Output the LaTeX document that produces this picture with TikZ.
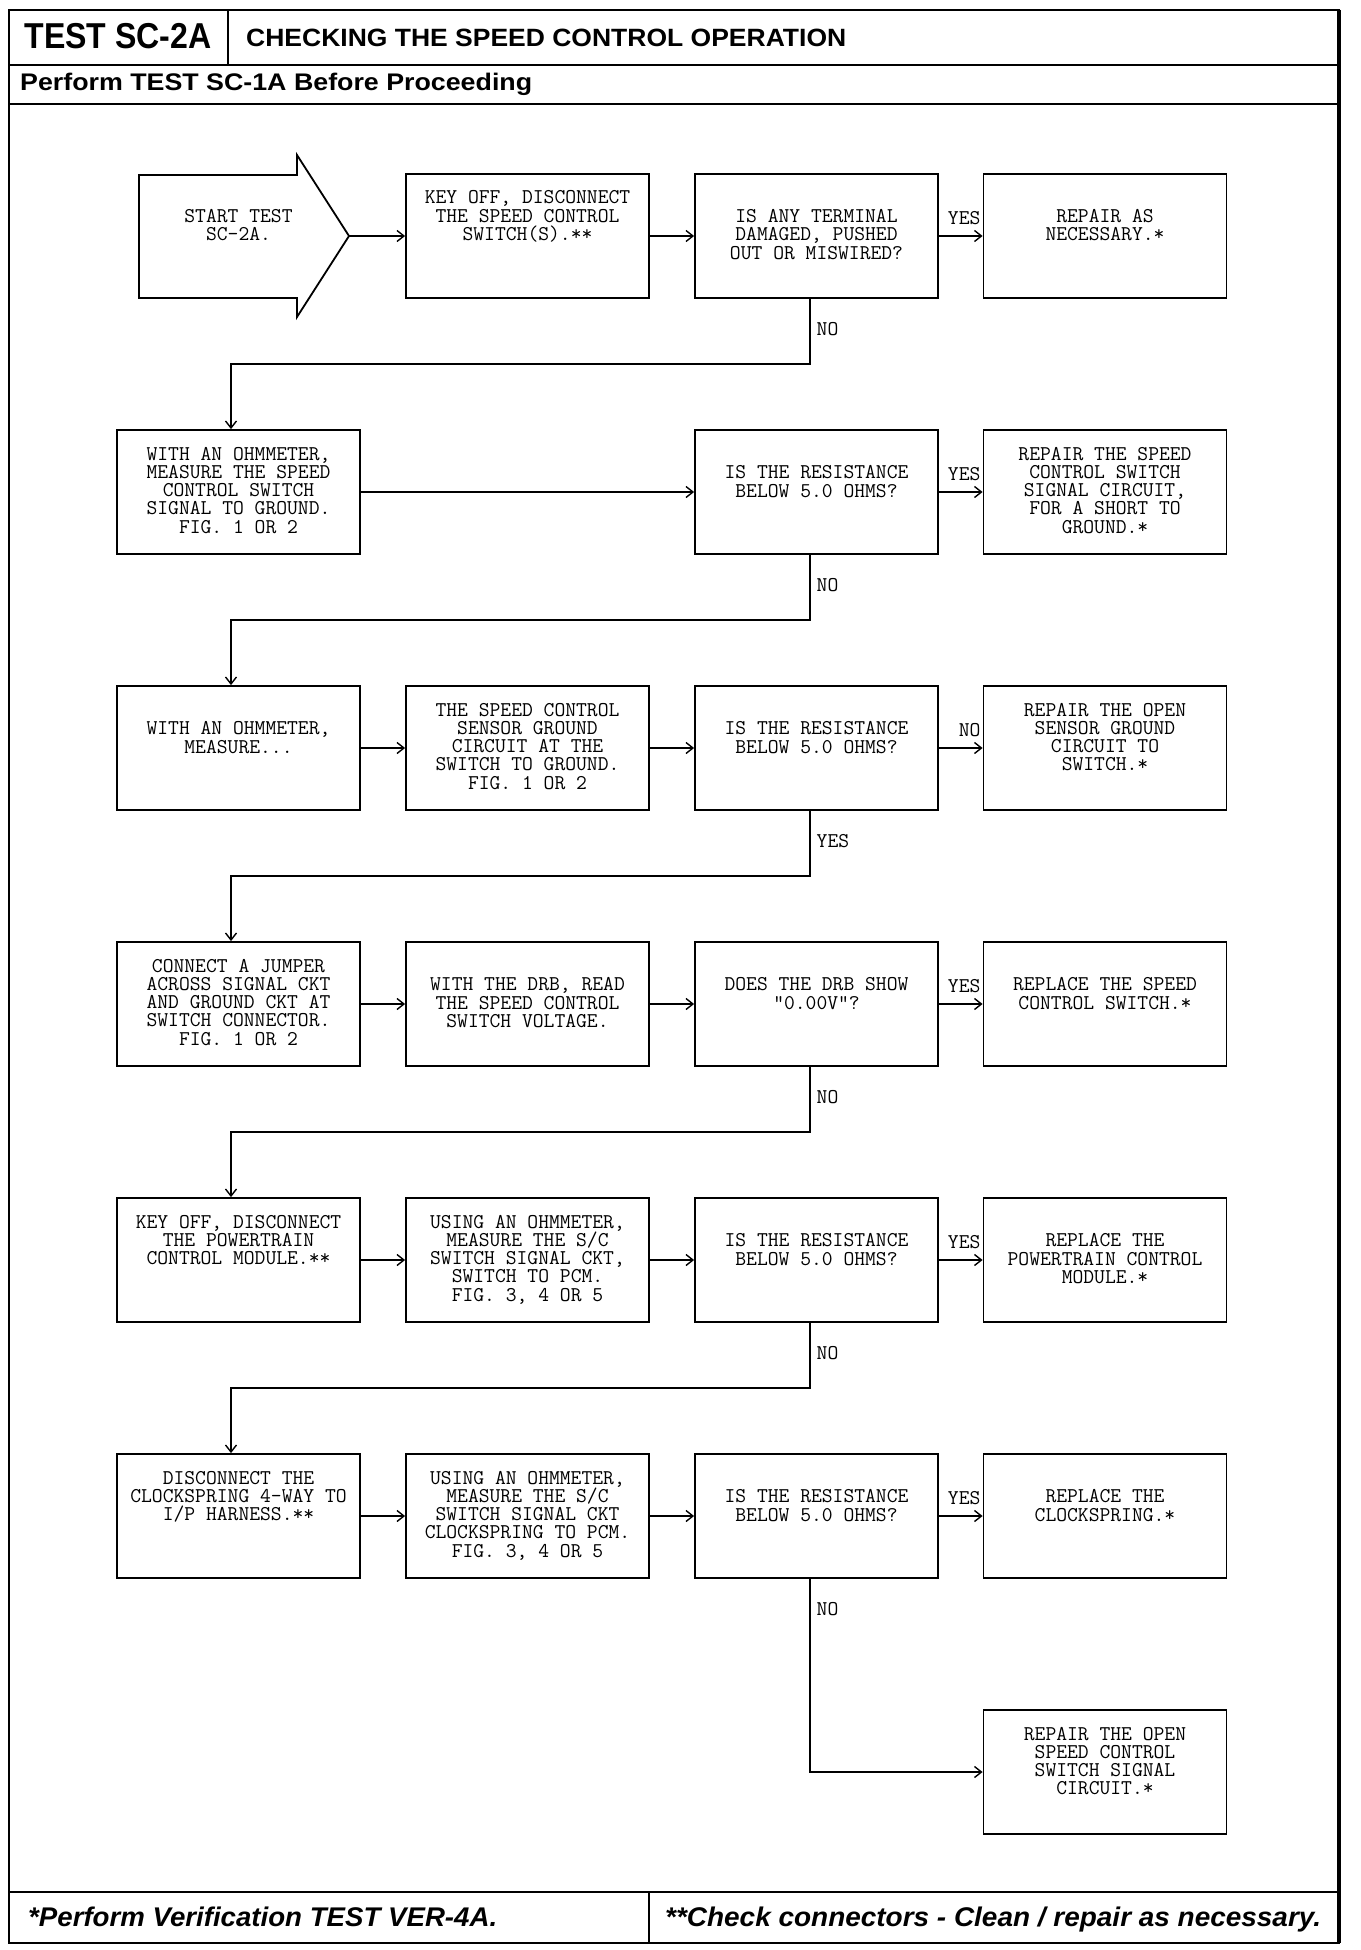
\documentclass[tikz,border=0pt]{standalone}
\usepackage{fontspec}
\usepackage{graphicx}
\usetikzlibrary{arrows.meta,calc}
\newfontfamily\hsans{Liberation Sans}
\newcommand{\bt}[2]{\begin{minipage}[c][124pt][t]{243pt}\centering\ttfamily\fontsize{21}{18.3}\selectfont\lineskiplimit=-100pt\relax\vspace*{#1pt}\rule{0pt}{14pt}#2\end{minipage}}
\begin{document}
\begin{tikzpicture}[x=1pt,y=-1pt,
  box/.style={draw,line width=1.8pt,inner sep=0pt,minimum width=243pt,minimum height=124pt},
  plain/.style={inner sep=0pt},
  lbl/.style={font=\ttfamily\fontsize{21}{21}\selectfont,inner sep=0pt},
  arr/.style={line width=1.5pt,-{Straight Barb[length=7pt,width=11pt,line width=1.4pt]}},
  frm/.style={line width=2.5pt}]
\useasboundingbox (0,0) rectangle (1360,1950);
% frame
\draw[frm] (9,10) rectangle (1339,1943);
\draw[line width=4pt] (1339,10) -- (1339,1943);
\draw[frm] (9,65) -- (1339,65);
\draw[frm] (9,104) -- (1339,104);
\draw[frm] (228,10) -- (228,65);
\draw[frm] (9,1892) -- (1339,1892);
\draw[frm] (649,1892) -- (649,1943);
% header texts
\node[plain,anchor=base] (hdrtest) at (118,49) {\hsans\bfseries\fontsize{36}{36}\selectfont\resizebox{187pt}{\height}{TEST SC-2A}};
\node[plain,anchor=base west] (hdrtitle) at (246,47) {\hsans\bfseries\fontsize{25}{25}\selectfont\resizebox{600pt}{\height}{CHECKING THE SPEED CONTROL OPERATION}};
\node[plain,anchor=base west] (hdrperf) at (20,91) {\hsans\bfseries\fontsize{24}{24}\selectfont\resizebox{512pt}{\height}{Perform TEST SC-1A Before Proceeding}};
\node[plain,anchor=base west] (ftl) at (28,1926) {\hsans\bfseries\itshape\fontsize{27}{27}\selectfont\resizebox{469pt}{\height}{*Perform Verification TEST VER-4A.}};
\node[plain,anchor=base west] (ftr) at (665,1926) {\hsans\bfseries\itshape\fontsize{27}{27}\selectfont\resizebox{656pt}{\height}{**Check connectors - Clean / repair as necessary.}};
% start arrow
\draw[line width=1.8pt,line join=miter] (139,175) -- (297,175) -- (297,155) -- (349,236) -- (297,317) -- (297,298) -- (139,298) -- cycle;
\node[plain] (start) at (238.5,236) {\bt{34.7}{START TEST\\SC-2A.}};
\coordinate (starttip) at (349,236);
% row 1
\node[box] (b12) at (527.5,236) {\bt{16}{KEY OFF, DISCONNECT\\THE SPEED CONTROL\\SWITCH(S).**}};
\node[box] (b13) at (816.5,236) {\bt{34.7}{IS ANY TERMINAL\\DAMAGED, PUSHED\\OUT OR MISWIRED?}};
\node[box] (b14) at (1105,236) {\bt{34.7}{REPAIR AS\\NECESSARY.*}};
% row 2
\node[box] (b21) at (238.5,492) {\bt{16}{WITH AN OHMMETER,\\MEASURE THE SPEED\\CONTROL SWITCH\\SIGNAL TO GROUND.\\FIG. 1 OR 2}};
\node[box] (b23) at (816.5,492) {\bt{34.7}{IS THE RESISTANCE\\BELOW 5.0 OHMS?}};
\node[box] (b24) at (1105,492) {\bt{16}{REPAIR THE SPEED\\CONTROL SWITCH\\SIGNAL CIRCUIT,\\FOR A SHORT TO\\GROUND.*}};
% row 3
\node[box] (b31) at (238.5,748) {\bt{34.7}{WITH AN OHMMETER,\\MEASURE...}};
\node[box] (b32) at (527.5,748) {\bt{16}{THE SPEED CONTROL\\SENSOR GROUND\\CIRCUIT AT THE\\SWITCH TO GROUND.\\FIG. 1 OR 2}};
\node[box] (b33) at (816.5,748) {\bt{34.7}{IS THE RESISTANCE\\BELOW 5.0 OHMS?}};
\node[box] (b34) at (1105,748) {\bt{16}{REPAIR THE OPEN\\SENSOR GROUND\\CIRCUIT TO\\SWITCH.*}};
% row 4
\node[box] (b41) at (238.5,1004) {\bt{16}{CONNECT A JUMPER\\ACROSS SIGNAL CKT\\AND GROUND CKT AT\\SWITCH CONNECTOR.\\FIG. 1 OR 2}};
\node[box] (b42) at (527.5,1004) {\bt{34.7}{WITH THE DRB, READ\\THE SPEED CONTROL\\SWITCH VOLTAGE.}};
\node[box] (b43) at (816.5,1004) {\bt{34.7}{DOES THE DRB SHOW\\"0.00V"?}};
\node[box] (b44) at (1105,1004) {\bt{34.7}{REPLACE THE SPEED\\CONTROL SWITCH.*}};
% row 5
\node[box] (b51) at (238.5,1260) {\bt{16}{KEY OFF, DISCONNECT\\THE POWERTRAIN\\CONTROL MODULE.**}};
\node[box] (b52) at (527.5,1260) {\bt{16}{USING AN OHMMETER,\\MEASURE THE S/C\\SWITCH SIGNAL CKT,\\SWITCH TO PCM.\\FIG. 3, 4 OR 5}};
\node[box] (b53) at (816.5,1260) {\bt{34.7}{IS THE RESISTANCE\\BELOW 5.0 OHMS?}};
\node[box] (b54) at (1105,1260) {\bt{34.7}{REPLACE THE\\POWERTRAIN CONTROL\\MODULE.*}};
% row 6
\node[box] (b61) at (238.5,1516) {\bt{16}{DISCONNECT THE\\CLOCKSPRING 4-WAY TO\\I/P HARNESS.**}};
\node[box] (b62) at (527.5,1516) {\bt{16}{USING AN OHMMETER,\\MEASURE THE S/C\\SWITCH SIGNAL CKT\\CLOCKSPRING TO PCM.\\FIG. 3, 4 OR 5}};
\node[box] (b63) at (816.5,1516) {\bt{34.7}{IS THE RESISTANCE\\BELOW 5.0 OHMS?}};
\node[box] (b64) at (1105,1516) {\bt{34.7}{REPLACE THE\\CLOCKSPRING.*}};
% row 7
\node[box] (b74) at (1105,1772) {\bt{16}{REPAIR THE OPEN\\SPEED CONTROL\\SWITCH SIGNAL\\CIRCUIT.*}};
% connectors row 1
\draw[arr] (starttip) -- (b12.west);
\draw[arr] (b12.east) -- (b13.west);
\draw[arr] (b13.east) -- (b14.west);
\node[lbl,anchor=base east] (y1) at ([xshift=-2pt,yshift=11.6pt]b14.west) {YES};
\draw[arr] ([xshift=-6.5pt]b13.south) -- ++(0,65) -| ([xshift=-7.5pt]b21.north);
\node[lbl,anchor=base west] (n1) at ([yshift=-36.4pt]b13.south) {NO};
% row 2
\draw[arr] (b21.east) -- (b23.west);
\draw[arr] (b23.east) -- (b24.west);
\node[lbl,anchor=base east] (y2) at ([xshift=-2pt,yshift=11.6pt]b24.west) {YES};
\draw[arr] ([xshift=-6.5pt]b23.south) -- ++(0,65) -| ([xshift=-7.5pt]b31.north);
\node[lbl,anchor=base west] (n2) at ([yshift=-36.4pt]b23.south) {NO};
% row 3
\draw[arr] (b31.east) -- (b32.west);
\draw[arr] (b32.east) -- (b33.west);
\draw[arr] (b33.east) -- (b34.west);
\node[lbl,anchor=base east] (n3) at ([xshift=-2pt,yshift=11.6pt]b34.west) {NO};
\draw[arr] ([xshift=-6.5pt]b33.south) -- ++(0,65) -| ([xshift=-7.5pt]b41.north);
\node[lbl,anchor=base west] (y3) at ([yshift=-36.4pt]b33.south) {YES};
% row 4
\draw[arr] (b41.east) -- (b42.west);
\draw[arr] (b42.east) -- (b43.west);
\draw[arr] (b43.east) -- (b44.west);
\node[lbl,anchor=base east] (y4) at ([xshift=-2pt,yshift=11.6pt]b44.west) {YES};
\draw[arr] ([xshift=-6.5pt]b43.south) -- ++(0,65) -| ([xshift=-7.5pt]b51.north);
\node[lbl,anchor=base west] (n4) at ([yshift=-36.4pt]b43.south) {NO};
% row 5
\draw[arr] (b51.east) -- (b52.west);
\draw[arr] (b52.east) -- (b53.west);
\draw[arr] (b53.east) -- (b54.west);
\node[lbl,anchor=base east] (y5) at ([xshift=-2pt,yshift=11.6pt]b54.west) {YES};
\draw[arr] ([xshift=-6.5pt]b53.south) -- ++(0,65) -| ([xshift=-7.5pt]b61.north);
\node[lbl,anchor=base west] (n5) at ([yshift=-36.4pt]b53.south) {NO};
% row 6
\draw[arr] (b61.east) -- (b62.west);
\draw[arr] (b62.east) -- (b63.west);
\draw[arr] (b63.east) -- (b64.west);
\node[lbl,anchor=base east] (y6) at ([xshift=-2pt,yshift=11.6pt]b64.west) {YES};
\draw[arr] ([xshift=-6.5pt]b63.south) |- (b74.west);
\node[lbl,anchor=base west] (n6) at ([yshift=-36.4pt]b63.south) {NO};
\end{tikzpicture}
\end{document}
